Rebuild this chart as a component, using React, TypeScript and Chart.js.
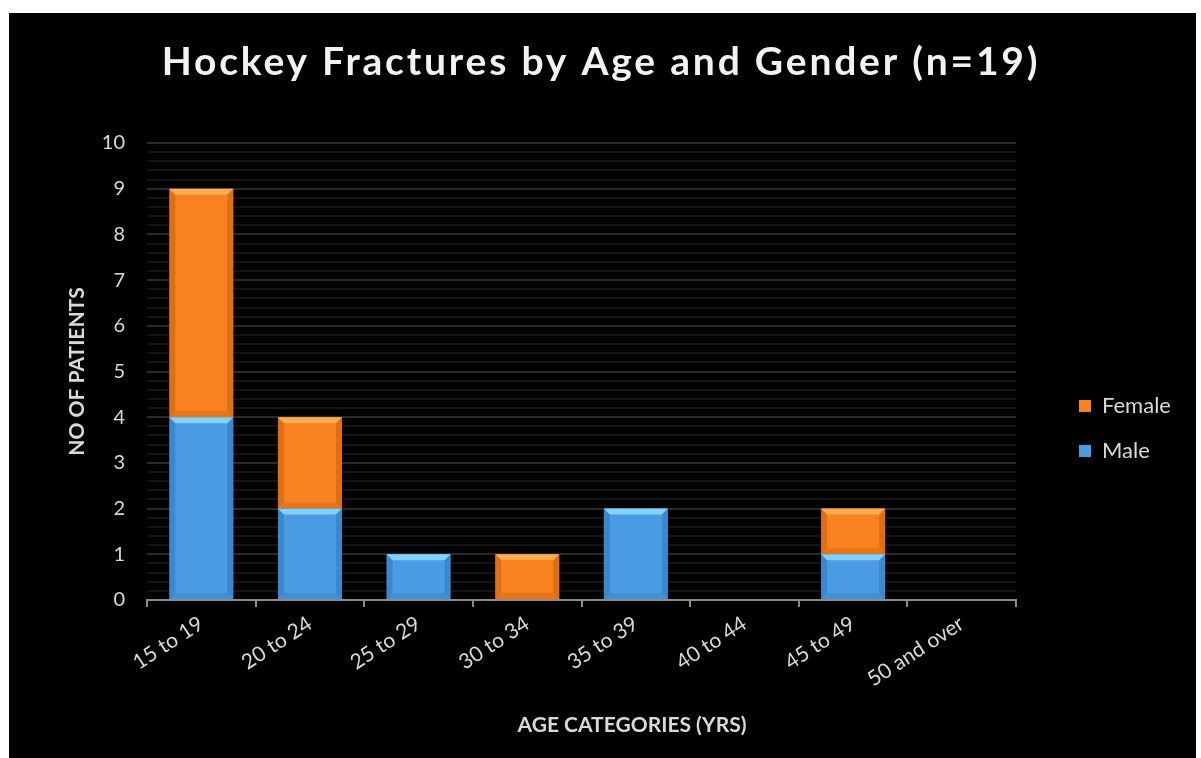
import React, { useEffect, useRef } from "react";
import { Chart, registerables } from "chart.js";

Chart.register(...registerables);

const categories = ["15 to 19", "20 to 24", "25 to 29", "30 to 34", "35 to 39", "40 to 44", "45 to 49", "50 and over"];
const maleValues = [4, 2, 1, 0, 2, 0, 1, 0];
const femaleValues = [5, 2, 0, 1, 0, 0, 1, 0];
const chartTitle = "Hockey Fractures by Age and Gender (n=19)";
const yAxisTitle = "NO OF PATIENTS";
const xAxisTitle = "AGE CATEGORIES (YRS)";

const FONT = "Lato, 'Open Sans', sans-serif";
const BLUE = "#4a9de4";
const ORANGE = "#f7821f";

const bevel: Record<string, { top: string; side: string; bottom: string }> = {
  Male: { top: "rgba(140,215,255,0.9)", side: "rgba(30,90,150,0.3)", bottom: "rgba(30,90,150,0.2)" },
  Female: { top: "rgba(255,180,90,0.85)", side: "rgba(170,70,0,0.3)", bottom: "rgba(170,70,0,0.2)" },
};

const bevelPlugin = {
  id: "bevel",
  afterDatasetsDraw(chart: any) {
    const ctx = chart.ctx;
    chart.data.datasets.forEach((ds: any, i: number) => {
      const meta = chart.getDatasetMeta(i);
      const b = bevel[ds.label];
      meta.data.forEach((el: any) => {
        const { x, y, base, width } = el.getProps(["x", "y", "base", "width"], true);
        const h = base - y;
        if (h < 1) return;
        const l = x - width / 2;
        const r = x + width / 2;
        const t = y;
        const d = Math.min(6, h / 3);
        ctx.save();
        ctx.fillStyle = b.top;
        ctx.beginPath();
        ctx.moveTo(l, t);
        ctx.lineTo(r, t);
        ctx.lineTo(r - d, t + d);
        ctx.lineTo(l + d, t + d);
        ctx.closePath();
        ctx.fill();
        ctx.fillStyle = b.side;
        ctx.beginPath();
        ctx.moveTo(l, t);
        ctx.lineTo(l + d, t + d);
        ctx.lineTo(l + d, base - d);
        ctx.lineTo(l, base);
        ctx.closePath();
        ctx.fill();
        ctx.beginPath();
        ctx.moveTo(r, t);
        ctx.lineTo(r - d, t + d);
        ctx.lineTo(r - d, base - d);
        ctx.lineTo(r, base);
        ctx.closePath();
        ctx.fill();
        ctx.fillStyle = b.bottom;
        ctx.beginPath();
        ctx.moveTo(l, base);
        ctx.lineTo(l + d, base - d);
        ctx.lineTo(r - d, base - d);
        ctx.lineTo(r, base);
        ctx.closePath();
        ctx.fill();
        ctx.restore();
      });
    });
  },
};

// Shift the legend (drawn by Chart.js) to the place it has in the reference
const legendShiftPlugin = {
  id: "legendShift",
  afterLayout(chart: any) {
    const lg = chart.legend;
    if (!lg) return;
    const pad = 23;
    const dx = 1070 - pad - lg.left;
    const dy = -22;
    lg.left += dx;
    lg.right += dx;
    lg.top += dy;
    lg.bottom += dy;
  },
};

const textPlugin = {
  id: "texts",
  afterDraw(chart: any) {
    const ctx = chart.ctx;
    ctx.save();
    ctx.fillStyle = "#f2f2f2";
    ctx.textAlign = "center";
    ctx.textBaseline = "middle";
    ctx.font = `bold 39px ${FONT}`;
    (ctx as any).letterSpacing = "2.8px";
    ctx.fillText(chartTitle, 592, 49);
    (ctx as any).letterSpacing = "0px";
    ctx.fillStyle = "#d9d9d9";
    ctx.font = `bold 21px ${FONT}`;
    ctx.fillText(xAxisTitle, 623, 712);
    ctx.restore();
  },
};

export default function App() {
  const ref = useRef<HTMLCanvasElement>(null);
  useEffect(() => {
    if (!ref.current) return;
    const chart = new Chart(ref.current, {
      type: "bar",
      data: {
        labels: categories,
        datasets: [
          { label: "Male", data: maleValues, backgroundColor: BLUE, borderWidth: 0 },
          { label: "Female", data: femaleValues, backgroundColor: ORANGE, borderWidth: 0 },
        ],
      },
      options: {
        responsive: false,
        animation: false,
        layout: { padding: { top: 130, left: 56, right: 55, bottom: 0 } },
        datasets: { bar: { categoryPercentage: 1, barPercentage: 0.59 } },
        plugins: {
          title: { display: false },
          tooltip: { enabled: false },
          legend: {
            position: "right",
            reverse: true,
            labels: {
              color: "#d9d9d9",
              font: { family: FONT, size: 22 },
              boxWidth: 12,
              boxHeight: 12,
              padding: 23,
            },
          },
        },
        scales: {
          x: {
            stacked: true,
            grid: { display: true, drawOnChartArea: false, drawTicks: true, tickLength: 7, color: "#8c8c8c", lineWidth: 2, offset: true },
            border: { display: true, color: "#8c8c8c", width: 2 },
            ticks: { color: "#d9d9d9", font: { family: FONT, size: 21 }, minRotation: 33, maxRotation: 33, padding: 4 },
            afterFit: (s: any) => { s.height = 158; },
          },
          y: {
            stacked: true,
            min: 0,
            max: 10,
            grid: {
              drawTicks: false,
              color: (c: any) => (Math.abs(c.tick.value - Math.round(c.tick.value)) < 1e-6 ? "#2a2a2a" : "#141414"),
              lineWidth: 2,
            },
            border: { display: false },
            ticks: {
              stepSize: 0.2,
              autoSkip: false,
              color: "#d9d9d9",
              font: { family: FONT, size: 20 },
              padding: 22,
              callback: (v: any) => (Math.abs(v - Math.round(v)) < 1e-6 ? String(Math.round(v)) : ""),
            },
            title: { display: true, text: yAxisTitle, color: "#d9d9d9", font: { family: FONT, size: 21, weight: "bold" }, padding: 0 },
            afterFit: (s: any) => { s.width = 82; },
          },
        },
      },
      plugins: [bevelPlugin, legendShiftPlugin, textPlugin],
    });
    return () => chart.destroy();
  }, []);
  return (
    <div style={{ position: "absolute", left: 9, top: 13, width: 1187, height: 745, background: "#000" }}>
      <canvas ref={ref} width={1187} height={745} style={{ display: "block" }} />
    </div>
  );
}
